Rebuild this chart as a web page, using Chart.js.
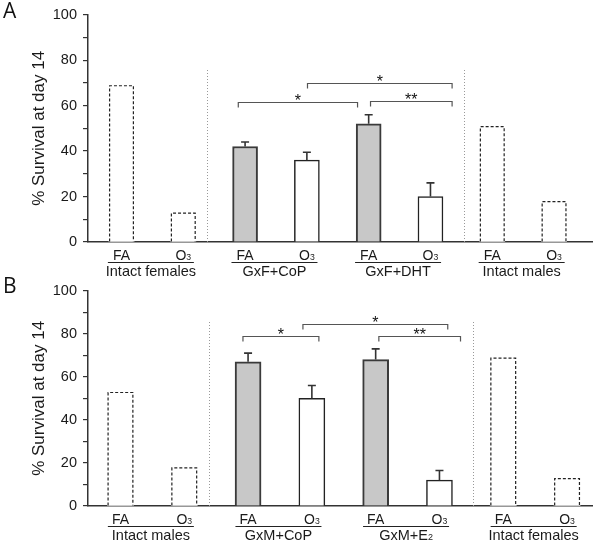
<!DOCTYPE html>
<html>
<head>
<meta charset="utf-8">
<script src="https://cdn.jsdelivr.net/npm/chart.js@4/dist/chart.umd.min.js"></script>
<style>
  html, body { margin: 0; padding: 0; background: #fff; }
  #wrap { position: relative; width: 600px; height: 553px; }
  .panel { position: absolute; left: 0; width: 600px; }
</style>
</head>
<body>
<div id="wrap">
  <div class="panel" style="top:0;height:276px"><canvas id="cA" width="600" height="276"></canvas></div>
  <div class="panel" style="top:276px;height:277px"><canvas id="cB" width="600" height="277"></canvas></div>
</div>
<script>
// ---------------- data ----------------
const exposures = ['FA', 'O₃', 'FA', 'O₃', 'FA', 'O₃', 'FA', 'O₃'];
const yTickValues = [0, 20, 40, 60, 80, 100];
const yTitle = '% Survival at day 14';

// Panel A
const groupsA = ['Intact females', 'GxF+CoP', 'GxF+DHT', 'Intact males'];
const survivalA = [69, 13, 42, 36, 52, 20, 51, 18];
const errorA = [null, null, 2, 3.5, 4, 6, null, null];
const bracketsA = [
  { from: 1.89, to: 3.82, level: 61.5, label: '*' },
  { from: 3.01, to: 5.35, level: 70, label: '*' },
  { from: 4.03, to: 5.35, level: 62, label: '**' }
];
const separatorsA = [1.38, 5.54];
const separatorTopA = 76;

// Panel B
const groupsB = ['Intact males', 'GxM+CoP', 'GxM+E₂', 'Intact females'];
const survivalB = [53, 18, 67, 50, 68, 12, 69, 13];
const errorB = [null, null, 4, 6, 5, 4.5, null, null];
const bracketsB = [
  { from: 1.92, to: 3.11, level: 79, label: '*' },
  { from: 2.86, to: 5.13, level: 84.5, label: '*' },
  { from: 4.05, to: 5.33, level: 79, label: '**' }
];
const separatorsB = [1.39, 5.53];
const separatorTopB = 86;

// ---------------- helpers ----------------
const SUB = { '₀':'0','₁':'1','₂':'2','₃':'3','₄':'4','₅':'5','₆':'6','₇':'7','₈':'8','₉':'9' };
const FONT = '"Liberation Sans", Arial, sans-serif';

function drawSubText(ctx, text, cx, baseline, size, color) {
  const runs = [];
  for (const ch of text) {
    const sub = SUB[ch] !== undefined;
    const c = sub ? SUB[ch] : ch;
    if (runs.length && runs[runs.length - 1].sub === sub) runs[runs.length - 1].t += c;
    else runs.push({ t: c, sub });
  }
  const subSize = size * 0.62;
  let total = 0;
  runs.forEach(r => {
    ctx.font = (r.sub ? subSize : size) + 'px ' + FONT;
    r.w = ctx.measureText(r.t).width;
    total += r.w;
  });
  let x = cx - total / 2;
  ctx.fillStyle = color;
  ctx.textAlign = 'left';
  ctx.textBaseline = 'alphabetic';
  runs.forEach(r => {
    ctx.font = (r.sub ? subSize : size) + 'px ' + FONT;
    ctx.fillText(r.t, x, r.sub ? baseline + size * 0.05 : baseline);
    x += r.w;
  });
}

function makeChart(canvasId, cfg) {
  const n = cfg.values.length;
  const isIntact = i => cfg.groups[Math.floor(i / 2)].startsWith('Intact');
  const isFA = i => exposures[i] === 'FA';

  const overlay = {
    id: 'overlay',
    afterDatasetsDraw(chart) {
      const ctx = chart.ctx;
      const xs = chart.scales.x, ys = chart.scales.y;
      const meta = chart.getDatasetMeta(0);
      const area = chart.chartArea;
      ctx.save();

      // dashed outlines for intact groups
      meta.data.forEach((el, i) => {
        if (!isIntact(i)) return;
        const p = el.getProps(['x', 'y', 'base', 'width'], true);
        const l = p.x - p.width / 2 + 0.6, r = p.x + p.width / 2 - 0.6;
        ctx.beginPath();
        ctx.setLineDash([3, 2]);
        ctx.lineWidth = 1.2;
        ctx.strokeStyle = '#222';
        ctx.moveTo(l, p.base);
        ctx.lineTo(l, p.y + 0.6);
        ctx.lineTo(r, p.y + 0.6);
        ctx.lineTo(r, p.base);
        ctx.stroke();
      });
      ctx.setLineDash([]);

      // error bars
      meta.data.forEach((el, i) => {
        const e = cfg.errors[i];
        if (e == null) return;
        const p = el.getProps(['x', 'y'], true);
        const yTop = ys.getPixelForValue(cfg.values[i] + e);
        ctx.beginPath();
        ctx.lineWidth = 1.6;
        ctx.strokeStyle = '#333';
        ctx.moveTo(p.x, p.y);
        ctx.lineTo(p.x, yTop);
        ctx.moveTo(p.x - 4, yTop);
        ctx.lineTo(p.x + 4, yTop);
        ctx.stroke();
      });

      // dotted separators
      cfg.separators.forEach(s => {
        const x = Math.round(xs.getPixelForValue(s)) + 0.5;
        ctx.beginPath();
        ctx.setLineDash([1, 2]);
        ctx.lineWidth = 1;
        ctx.strokeStyle = '#999';
        ctx.moveTo(x, ys.getPixelForValue(0));
        ctx.lineTo(x, ys.getPixelForValue(cfg.separatorTop));
        ctx.stroke();
      });
      ctx.setLineDash([]);

      // significance brackets
      cfg.brackets.forEach(b => {
        const x1 = xs.getPixelForValue(b.from), x2 = xs.getPixelForValue(b.to);
        const y = Math.round(ys.getPixelForValue(b.level)) + 0.5;
        ctx.beginPath();
        ctx.lineWidth = 1.2;
        ctx.strokeStyle = '#555';
        ctx.moveTo(x1, y + 5);
        ctx.lineTo(x1, y);
        ctx.lineTo(x2, y);
        ctx.lineTo(x2, y + 5);
        ctx.stroke();
        ctx.fillStyle = '#111';
        ctx.font = '16px ' + FONT;
        ctx.textAlign = 'center';
        ctx.textBaseline = 'alphabetic';
        ctx.fillText(b.label, (x1 + x2) / 2, y + 3);
      });

      // x labels: exposures
      const bottom = area.bottom;
      meta.data.forEach((el, i) => {
        const p = el.getProps(['x'], true);
        drawSubText(ctx, exposures[i], p.x, bottom + 17.5, 14, '#1a1a1a');
      });
      // group underline + group labels
      cfg.groups.forEach((g, gi) => {
        const a = meta.data[gi * 2].getProps(['x'], true).x;
        const b = meta.data[gi * 2 + 1].getProps(['x'], true).x;
        const c = (a + b) / 2 - 1.5;
        ctx.beginPath();
        ctx.lineWidth = 1;
        ctx.strokeStyle = '#222';
        ctx.moveTo(c - 43, Math.round(bottom + 20) + 0.5);
        ctx.lineTo(c + 43, Math.round(bottom + 20) + 0.5);
        ctx.stroke();
        drawSubText(ctx, g, c, bottom + 33.5, 14.5, '#1a1a1a');
      });

      // panel letter
      ctx.fillStyle = '#111';
      ctx.font = '21px "Open Sans", "DejaVu Sans", sans-serif';
      ctx.textAlign = 'left';
      ctx.textBaseline = 'alphabetic';
      ctx.fillText(cfg.letter, 3, cfg.letterBaseline);
      ctx.restore();
    }
  };

  return new Chart(document.getElementById(canvasId), {
    type: 'bar',
    data: {
      datasets: [{
        data: cfg.values.map((v, i) => ({ x: i, y: v })),
        barThickness: cfg.barThickness,
        backgroundColor: cfg.values.map((v, i) => isIntact(i) ? '#ffffff' : (isFA(i) ? '#c8c8c8' : '#ffffff')),
        borderColor: cfg.values.map((v, i) => isFA(i) ? '#3a3a3a' : '#222'),
        borderWidth: cfg.values.map((v, i) => isIntact(i) ? 0 : (isFA(i) ? 2 : 1.5)),
        borderSkipped: 'start'
      }]
    },
    options: {
      responsive: false,
      animation: false,
      devicePixelRatio: 1,
      layout: { padding: { top: cfg.padTop, right: 8, bottom: cfg.padBottom, left: 0 } },
      plugins: { legend: { display: false }, tooltip: { enabled: false } },
      scales: {
        x: {
          type: 'linear',
          min: cfg.xMin,
          max: cfg.xMax,
          offset: false,
          ticks: { display: false },
          grid: { display: true, drawOnChartArea: false, drawTicks: false, offset: false },
          border: { display: true, color: '#333', width: 1.5 },
          afterFit: s => { s.height = 34; }
        },
        y: {
          min: 0,
          max: 100,
          ticks: {
            stepSize: 10,
            padding: 6,
            color: '#1a1a1a',
            font: { family: FONT, size: 14.5 },
            callback: v => yTickValues.includes(v) ? String(v) : ''
          },
          grid: { display: true, drawOnChartArea: false, drawTicks: true, tickLength: 5, color: '#333', lineWidth: 1.2 },
          border: { display: true, color: '#333', width: 1.5 },
          title: {
            display: true,
            text: yTitle,
            color: '#1a1a1a',
            font: { family: FONT, size: 17 },
            padding: { top: 29, bottom: 0 }
          },
          afterFit: s => { s.width = 88; }
        }
      }
    },
    plugins: [overlay]
  });
}

makeChart('cA', {
  values: survivalA, errors: errorA, groups: groupsA, brackets: bracketsA,
  separators: separatorsA, separatorTop: separatorTopA,
  xMin: -0.542, xMax: 7.614, barThickness: 25,
  padTop: 14, padBottom: 0, letter: 'A', letterBaseline: 18
});
makeChart('cB', {
  values: survivalB, errors: errorB, groups: groupsB, brackets: bracketsB,
  separators: separatorsB, separatorTop: separatorTopB,
  xMin: -0.509, xMax: 7.391, barThickness: 26,
  padTop: 12, padBottom: 13, letter: 'B', letterBaseline: 17
});
</script>
</body>
</html>
